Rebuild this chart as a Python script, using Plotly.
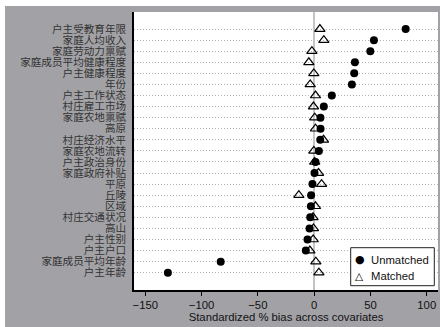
import plotly.graph_objects as go

# Covariates, top to bottom
covariates = [
    "户主受教育年限", "家庭人均收入", "家庭劳动力禀赋", "家庭成员平均健康程度",
    "户主健康程度", "年份", "户主工作状态", "村庄雇工市场", "家庭农地禀赋",
    "高原", "村庄经济水平", "家庭农地流转", "户主政治身份", "家庭政府补贴",
    "平原", "丘陵", "区域", "村庄交通状况", "高山", "户主性别", "户主户口",
    "家庭成员平均年龄", "户主年龄",
]

# Standardized % bias before matching
unmatched = [81.3, 53.1, 49.9, 36.2, 35.6, 33.5, 15.7, 8.6, 5.6, 5.7, 5.4, 4.2,
             1.2, 0.3, -1.5, -2.7, -2.9, -3.5, -4.1, -5.9, -7.4, -83.0, -129.9]

# Standardized % bias after matching
matched = [5.1, 8.6, -2.0, -4.7, -0.3, -3.5, 1.2, -0.6, 0.5, 1.2, 8.3, -0.3,
           0.5, 3.9, 6.6, -13.6, 1.2, -1.0, -0.6, -0.9, -3.8, 1.5, 4.2]

x_ticks = [-150, -100, -50, 0, 50, 100]

legend_labels = ["Unmatched", "Matched"]
legend_symbols = ["●", "△"]

rows = list(range(len(covariates)))

fig = go.Figure()
fig.add_trace(go.Scatter(
    x=unmatched, y=rows, mode="markers", name=legend_labels[0],
    marker=dict(symbol="circle", size=8, color="black"),
))
fig.add_trace(go.Scatter(
    x=matched, y=rows, mode="markers", name=legend_labels[1],
    marker=dict(symbol="triangle-up-open", size=9, color="black",
                line=dict(width=1.2, color="black")),
))

GRAY = "#a2a2a6"

# plot-area geometry in pixels, used to place the key box
L, R, T, B, W, H = 134, 2, 12, 37, 440, 327
PW, PH = W - L - R, H - T - B


def px(xp):
    return (xp - L) / PW


def py(yp):
    return (H - B - yp) / PH


shapes = [
    # white strip along the top and left edges of the canvas
    dict(type="rect", xref="paper", yref="paper", layer="below",
         x0=px(-10), x1=px(W + 10), y0=py(6), y1=py(-10),
         fillcolor="white", line=dict(width=0)),
    dict(type="rect", xref="paper", yref="paper", layer="below",
         x0=px(-10), x1=px(5), y0=py(H + 10), y1=py(-10),
         fillcolor="white", line=dict(width=0)),
    # key box
    dict(type="rect", xref="paper", yref="paper", layer="above",
         x0=px(350.7), x1=px(434.3), y0=py(285.7), y1=py(247.7),
         fillcolor="white", line=dict(width=1, color="#222")),
]

annotations = []
for i, (sym, lab) in enumerate(zip(legend_symbols, legend_labels)):
    yc = py(259.5 + 16 * i)
    annotations.append(dict(
        xref="paper", yref="paper", x=px(359.5), y=yc, text=sym,
        showarrow=False, xanchor="center", yanchor="middle",
        font=dict(family="DejaVu Sans", size=11 if i == 0 else 10.5, color="black"),
    ))
    annotations.append(dict(
        xref="paper", yref="paper", x=px(368.5), y=yc, text=lab,
        showarrow=False, xanchor="left", yanchor="middle",
        font=dict(family="Liberation Sans, Arial, sans-serif", size=11.3, color="#111"),
    ))

fig.update_layout(
    width=W, height=H,
    margin=dict(l=L, r=R, t=T, b=B),
    paper_bgcolor=GRAY,
    plot_bgcolor="white",
    font=dict(family="Liberation Sans, Arial, sans-serif", size=11.3, color="#111"),
    showlegend=False,
    shapes=shapes,
    annotations=annotations,
)

fig.update_xaxes(
    range=[-160, 110],
    tickvals=x_ticks,
    ticks="outside", ticklen=4, tickwidth=1, tickcolor="black",
    showline=True, linecolor="black", linewidth=1.5,
    showgrid=False,
    zeroline=True, zerolinecolor="#c4c4c4", zerolinewidth=2,
    title=dict(text="Standardized % bias across covariates", standoff=0,
               font=dict(size=11.3)),
    tickfont=dict(size=11.3),
)

fig.update_yaxes(
    range=[len(covariates) - 1 + 1.56, -1.54],
    tickvals=rows, ticktext=covariates,
    ticks="", ticklabelstandoff=4,
    showline=True, linecolor="black", linewidth=1.5,
    showgrid=True, gridcolor="#b4b4b4", griddash="1px,2px", gridwidth=1,
    zeroline=False,
    tickfont=dict(family="Noto Sans CJK SC", size=10.6, color="#333"),
)

fig.write_html("out.html")
